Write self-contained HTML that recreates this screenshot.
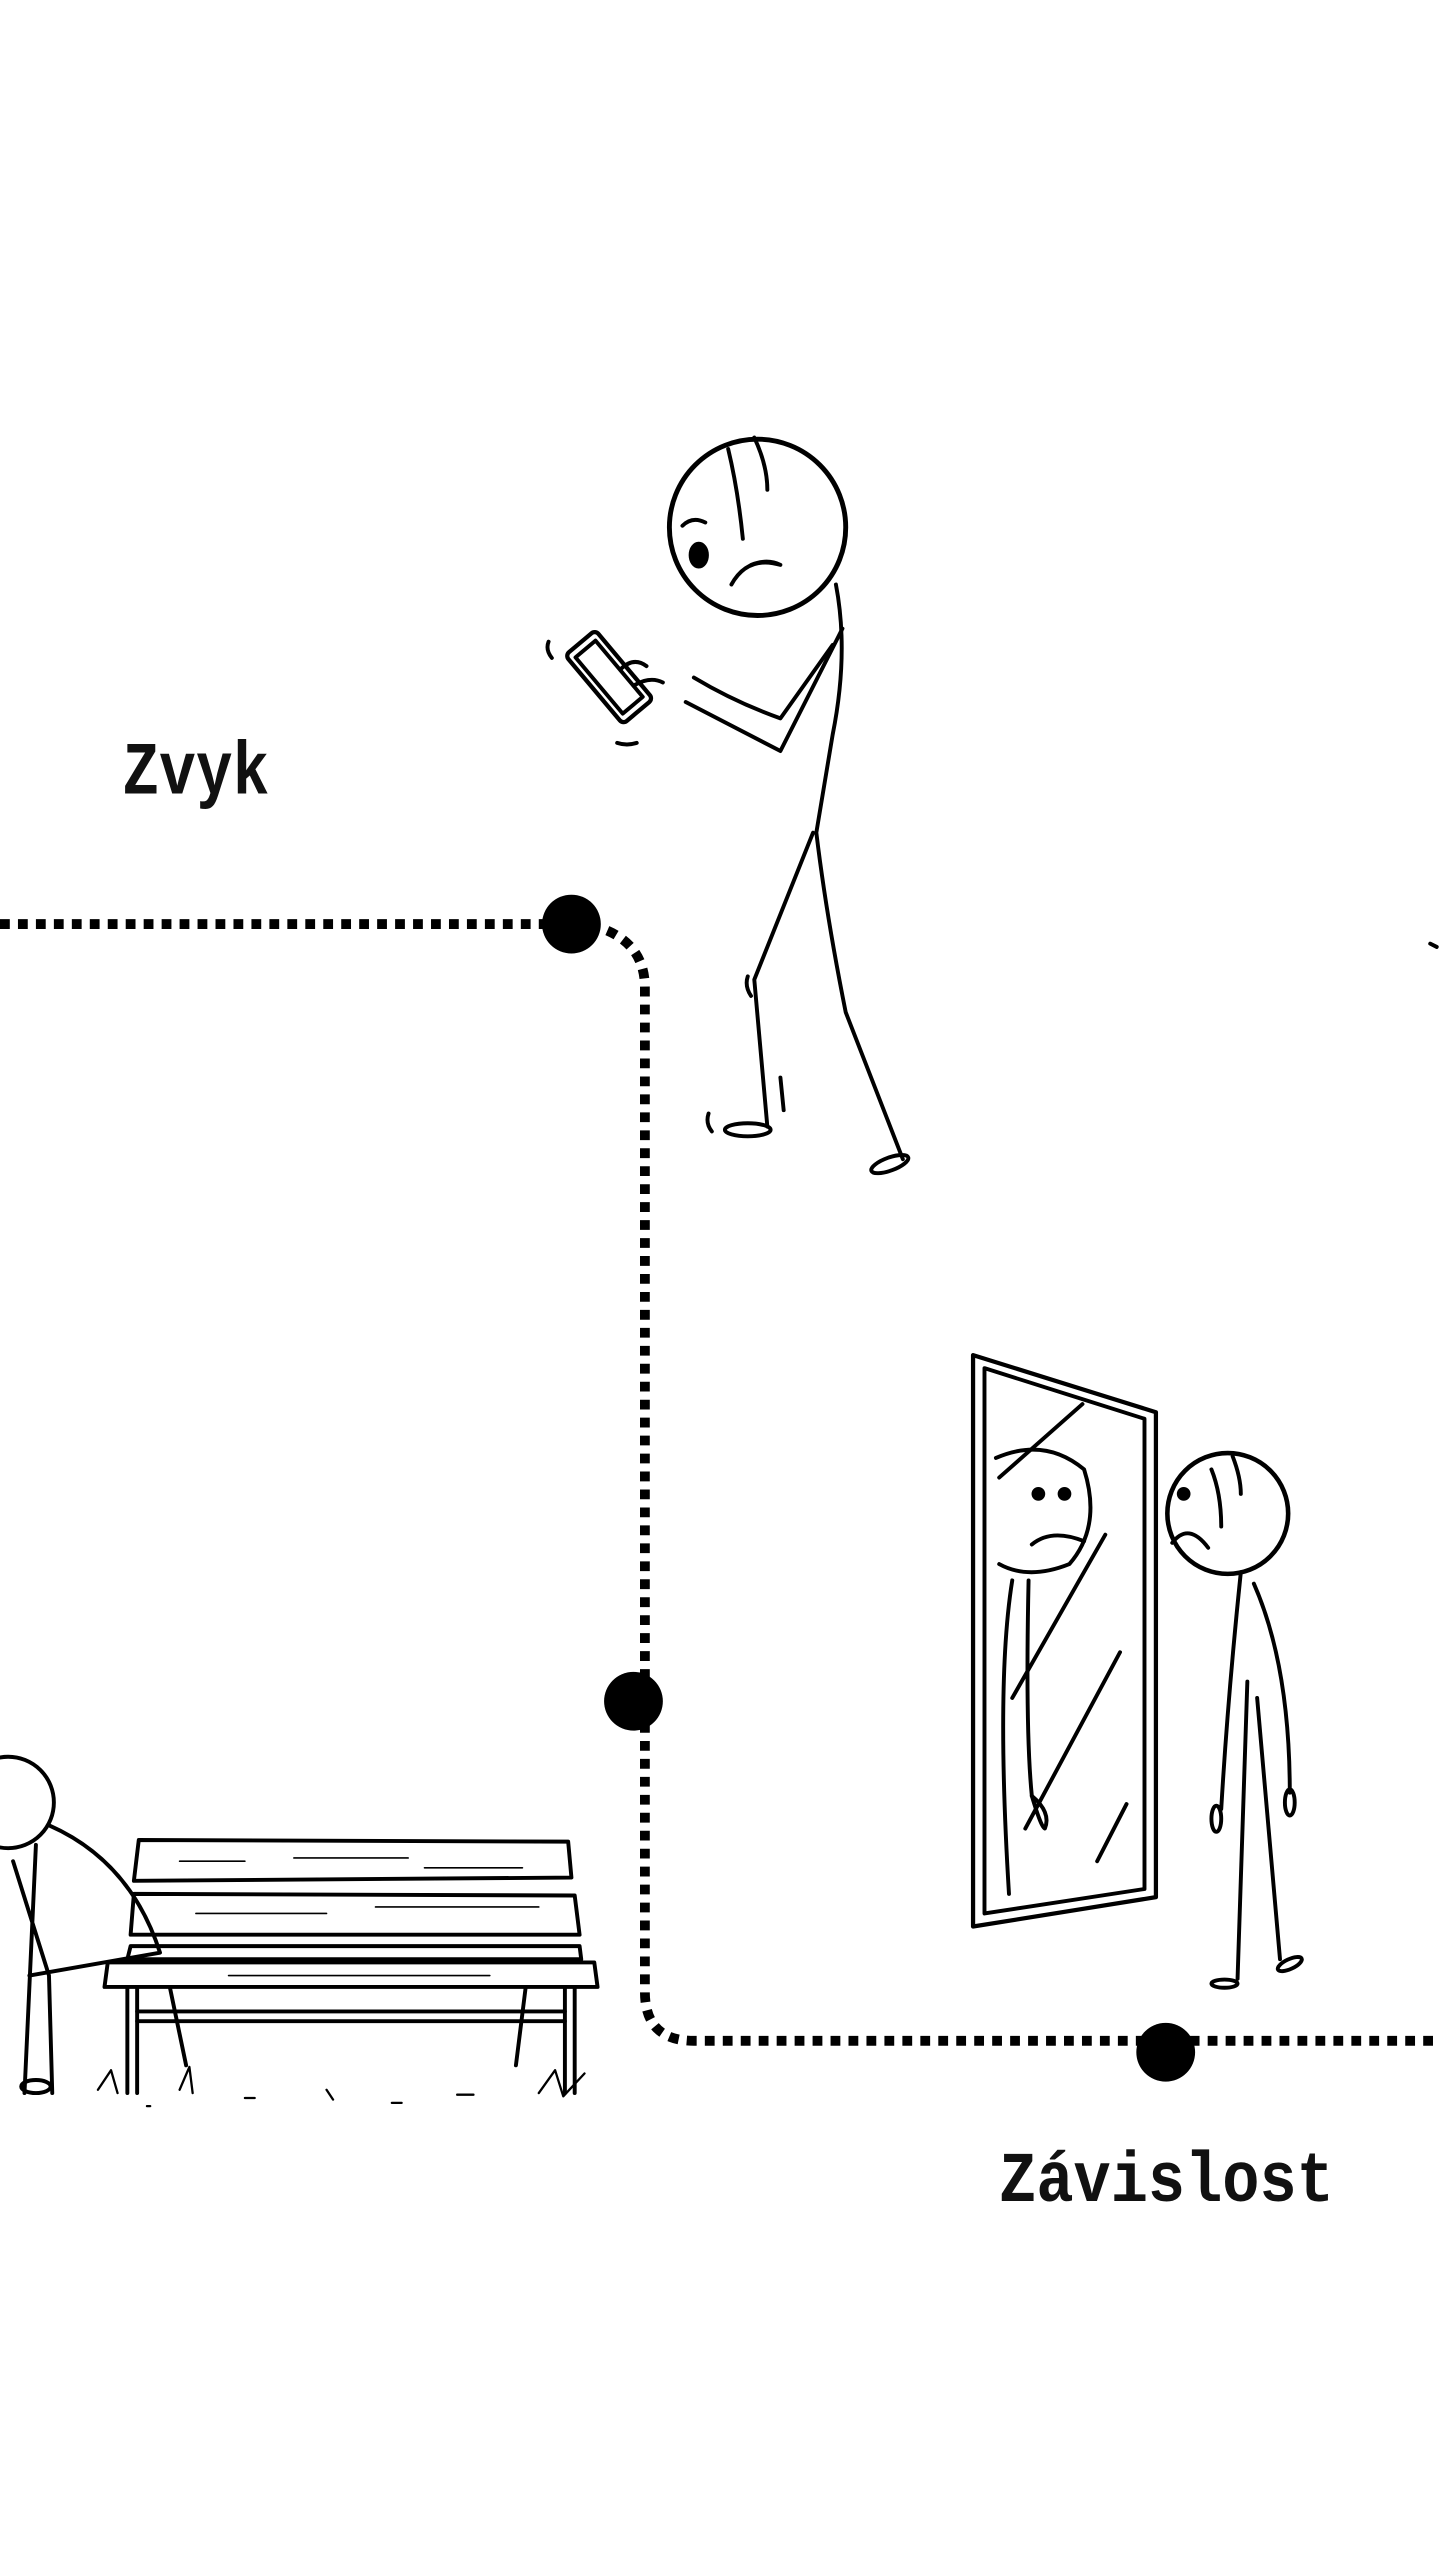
<!DOCTYPE html>
<html><head><meta charset="utf-8"><style>
html,body{margin:0;padding:0;background:#fff;}
svg{display:block;}
</style></head><body>
<svg width="1440" height="2560" viewBox="0 0 882 1568" xmlns="http://www.w3.org/2000/svg">
<rect width="882" height="1568" fill="#fff"/>
<g fill="none" stroke="#000" stroke-width="6" stroke-dasharray="6,5">
<path d="M0 566 H350"/>
<path d="M372 570 Q395 580 395 605 V1220 Q395 1250 425 1250 H882"/>
</g>
<circle cx="350" cy="566" r="18"/>
<circle cx="388" cy="1042" r="18"/>
<circle cx="714" cy="1257" r="18"/>
<text x="75" y="486" font-family="'Liberation Mono',monospace" font-weight="bold" font-size="46" fill="#111" textLength="90" lengthAdjust="spacingAndGlyphs">Zvyk</text>
<text x="612" y="1348" font-family="'Liberation Mono',monospace" font-weight="bold" font-size="44" fill="#111" textLength="205" lengthAdjust="spacingAndGlyphs">Závislost</text>

<g fill="none" stroke="#000" stroke-width="2.4" stroke-linecap="round" stroke-linejoin="round">
<circle cx="464" cy="323" r="54" stroke-width="3"/>
<path d="M446 275 Q452 300 455 330"/>
<path d="M462 268 Q470 285 470 300"/>
<ellipse cx="428" cy="340" rx="5" ry="7" fill="#000"/>
<path d="M418 322 Q424 316 432 320"/>
<path d="M448 358 Q458 340 478 346 Q470 342 460 346"/>
<path d="M512 358 Q520 400 510 450 L500 510 Q506 560 518 620 L553 710"/>
<path d="M516 385 L478 460 L420 430"/>
<path d="M510 395 L478 440 Q450 430 425 415"/>
<path d="M498 510 L462 600 L470 690"/>
<ellipse cx="458" cy="692" rx="14" ry="4"/>
<ellipse cx="545" cy="713" rx="12" ry="4" transform="rotate(-20 545 713)"/>
<g transform="rotate(50 372 415)"><rect x="345" y="402" width="55" height="24" rx="3" stroke-width="2.6"/><rect x="350" y="406" width="45" height="16"/></g>
<path d="M380 410 Q388 402 396 408 M388 420 Q398 414 406 418"/>
<path d="M336 393 Q334 398 338 403 M378 455 Q384 457 390 455 M434 682 Q432 688 436 693 M458 598 Q456 604 460 610 M478 660 L480 680"/>
<path d="M596 830 L708 865 L708 1162 L596 1180 Z" stroke-width="2.6"/>
<path d="M603 838 L701 869 L701 1157 L603 1172 Z"/>
<path d="M612 905 L663 860 M620 1040 L677 940 M628 1120 L686 1012 M672 1140 L690 1105"/>
<path d="M610 893 Q640 880 664 900 Q675 935 655 958 Q630 968 612 958"/>
<circle cx="636" cy="915" r="3" fill="#000"/><circle cx="652" cy="915" r="3" fill="#000"/>
<path d="M632 946 Q644 936 664 944"/>
<path d="M620 968 Q610 1030 618 1160 M630 968 Q628 1060 632 1100"/>
<path d="M632 1100 Q638 1120 640 1120 Q644 1110 632 1100"/>
<circle cx="752" cy="927" r="37" stroke-width="2.8"/>
<path d="M742 900 Q748 915 748 935 M755 892 Q760 905 760 915"/>
<circle cx="725" cy="915" r="3" fill="#000"/>
<path d="M718 945 Q728 932 740 948"/>
<path d="M760 963 Q752 1040 748 1108 M768 970 Q790 1020 790 1098"/>
<path d="M764 1030 L758 1212 M770 1040 L784 1200"/>
<ellipse cx="745" cy="1114" rx="3" ry="8"/><ellipse cx="790" cy="1104" rx="3" ry="8"/>
<ellipse cx="750" cy="1215" rx="8" ry="2.5"/><ellipse cx="790" cy="1203" rx="8" ry="3" transform="rotate(-25 790 1203)"/>
<path d="M85 1127 L348 1128 L350 1150 L82 1152 Z"/>
<path d="M82 1160 L352 1161 L355 1185 L80 1185 Z"/>
<path d="M80 1192 L355 1192 L356 1200 L78 1200 Z"/>
<path d="M66 1202 L364 1202 L366 1217 L64 1217 Z"/>
<path d="M78 1217 V1282 M84 1217 V1282 M346 1217 V1282 M352 1217 V1282"/>
<path d="M84 1232 H346 M84 1238 H346"/>
<path d="M104 1217 L114 1265 M322 1217 L316 1265"/>
<path d="M110 1140 H150 M180 1138 H250 M260 1144 H320 M120 1172 H200 M230 1168 H330 M140 1210 H300" stroke-width="1"/>
<path d="M60 1280 L68 1268 L72 1282 M110 1280 L116 1266 L118 1282 M330 1282 L340 1268 L345 1284 L358 1270 M90 1290 H92 M150 1285 H156 M200 1280 L204 1286 M240 1288 H246 M280 1283 H290" stroke-width="1.4"/>
<circle cx="5" cy="1104" r="28"/>
<path d="M30 1118 Q80 1140 98 1196 L18 1210"/>
<path d="M22 1130 L15 1282 M8 1140 L30 1210 L32 1282"/>
<ellipse cx="22" cy="1278" rx="9" ry="4"/>
<path d="M876 578 L880 580"/>
</g>
</svg>
</body></html>
